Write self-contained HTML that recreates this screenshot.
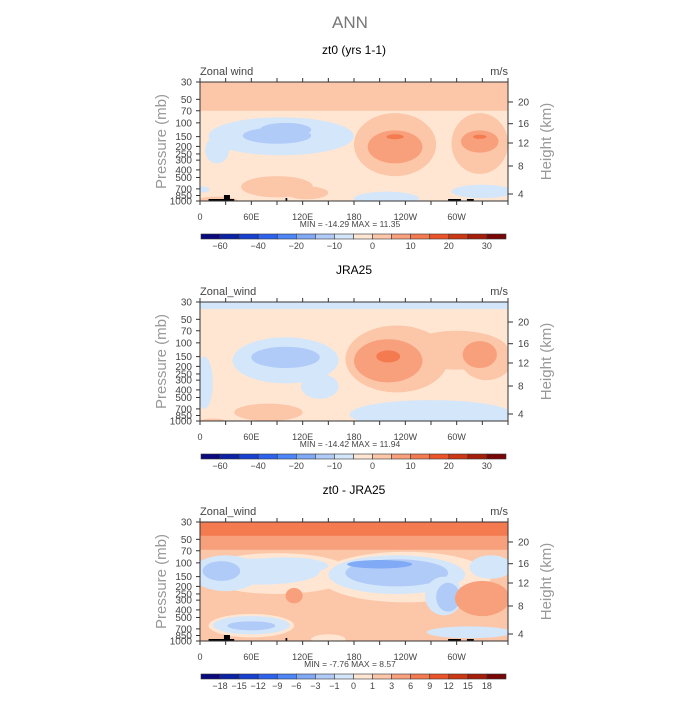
<!DOCTYPE html>
<html><head><meta charset="utf-8"><style>
body{margin:0;background:#fff}
svg text{font-family:"Liberation Sans",sans-serif}
</style></head><body>
<svg id="c" width="700" height="700" viewBox="0 0 700 700" xmlns="http://www.w3.org/2000/svg">
<text x="350" y="28" text-anchor="middle" font-size="17" fill="#777">ANN</text>
</svg>
<script>
const colors1=["#0a0a7e","#0b22a6","#1840d0","#2c62ee","#4c86f8","#80aaf6","#b0cbf8","#d4e6fa","#fee6d2","#fcc6a8","#f8a07c","#f47a50","#ea5428","#cc3814","#a41e0a","#780606"];
const barLabels1=["-60","-40","-20","-10","0","10","20","30"];
const barLabels3=["-18","-15","-12","-9","-6","-3","-1","0","1","3","6","9","12","15","18"];
const titles=["zt0 (yrs 1-1)","JRA25","zt0 - JRA25"];
const varNames=["Zonal wind","Zonal_wind","Zonal_wind"];
const minMax=[["-14.29","11.35"],["-14.42","11.94"],["-7.76","8.57"]];
const pTicks=[30,50,70,100,150,200,250,300,400,500,700,850,1000];
const hTicks=[20,16,12,8,4];
const hTickOffsets=[20,41.7,61,84,112];
const lonTicks=[0,60,120,180,240,300];
const lonLabels=["0","60E","120E","180","120W","60W"];
const bgLevel=[8,8,9];
// blobs: [lonCenter, lonRadius, pTop, pBottom, level]; radius >=180 => full-width band
const blobs1=[[180,200,25,70,9],[95,85,85,260,7],[20,14,150,330,7],[90,40,115,185,6],[100,30,100,150,6],
[228,48,75,480,9],[228,32,125,330,10],[228,10,140,162,11],[327,33,75,450,9],[327,22,125,240,10],[327,8,142,160,11],
[90,42,480,900,9],[125,25,650,950,9],[218,38,760,1150,7],[330,36,620,920,7],[3,8,650,780,7],[20,25,880,1150,9]];
const blobs2=[[180,200,20,37,7],[230,60,60,430,9],[300,60,70,220,9],[335,30,90,300,9],[100,62,85,330,7],[5,10,150,700,7],[140,22,250,520,7],
[100,40,112,210,6],[220,40,90,320,10],[220,14,125,178,11],[327,20,95,210,10],
[270,95,540,1250,7],[80,40,600,1000,9],[15,15,930,1100,9]];
const blobs3=[[180,200,20,85,9],[180,200,20,68,10],[180,200,20,45,11],
[90,90,75,250,8],[240,100,72,320,8],[70,70,88,190,7],[30,40,80,230,7],[25,22,95,170,6],[100,50,85,140,7],[230,80,80,250,7],[230,60,90,200,6],[210,38,92,118,5],[285,22,150,470,7],[290,14,180,420,6],[340,25,80,160,7],
[330,32,170,480,10],[110,10,210,330,10],[60,50,450,900,8],[60,45,480,820,7],[60,28,560,730,6],[150,20,820,1100,8],[315,50,650,920,7]];
const topo=[[10,40,2],[28,35,6],[100,102,3],[290,305,2],[312,320,2]];
const allBlobs=[blobs1,blobs2,blobs3];

const svg=document.getElementById('c');
const NS="http://www.w3.org/2000/svg";
const X0=200,X1=508,H=119,tops=[82,302,522];
function xs(l){return X0+(X1-X0)*l/360;}
function ys(p,t){return t+H*Math.log(p/30)/Math.log(1000/30);}
function mk(tag,at,par){const e=document.createElementNS(NS,tag);for(const k in at)e.setAttribute(k,at[k]);(par||svg).appendChild(e);return e;}
function txt(s,at,par){const e=mk('text',at,par);e.textContent=s;return e;}

for(let i=0;i<3;i++){
  const t=tops[i];
  const g=mk('g',{});
  
  
  const cp=mk('clipPath',{id:'cp'+i},g);
  mk('rect',{x:X0,y:t,width:X1-X0,height:H},cp);
  const pg=mk('g',{'clip-path':'url(#cp'+i+')'},g);
  const bg=mk('rect',{x:X0,y:t,width:X1-X0,height:H,fill:colors1[bgLevel[i]]},pg);
  
  
  for(const b of allBlobs[i]){
    const y1=ys(b[2],t),y2=ys(b[3],t);
    let e;
    if(b[1]>=180){
      e=mk('rect',{x:X0,y:y1,width:X1-X0,height:y2-y1,fill:colors1[b[4]]},pg);
    } else {
      const cx=xs(b[0]),rx=xs(b[0]+b[1])-cx;
      e=mk('ellipse',{cx:cx,cy:(y1+y2)/2,rx:rx,ry:(y2-y1)/2,fill:colors1[b[4]]},pg);
    }
    
    
  }
  if(i!=1){for(const tp of topo){
    const r=mk('rect',{x:xs(tp[0]),y:t+H-tp[2],width:xs(tp[1])-xs(tp[0]),height:tp[2],fill:'#000'},pg);
    
    
  }}
  mk('rect',{x:X0,y:t,width:X1-X0,height:H,fill:'none',stroke:'#333','stroke-width':1},g);
  for(let l=0;l<=360;l+=30){
    mk('line',{x1:xs(l),x2:xs(l),y1:t,y2:t-4,stroke:'#333'},g);
    mk('line',{x1:xs(l),x2:xs(l),y1:t+H,y2:t+H+4,stroke:'#333'},g);
  }
  lonTicks.forEach((l,k)=>{const e=txt(lonLabels[k],{x:xs(l),y:t+H+19,'text-anchor':'middle','font-size':9,fill:'#444'},g);
    });
  pTicks.forEach(p=>{const y=ys(p,t);mk('line',{x1:X0,x2:X0-4,y1:y,y2:y,stroke:'#333'},g);
    const e=txt(String(p),{x:X0-8,y:y+3.5,'text-anchor':'end','font-size':10,fill:'#444'},g);
    });
  hTicks.forEach((h,k)=>{const y=t+hTickOffsets[k];mk('line',{x1:X1,x2:X1+5,y1:y,y2:y,stroke:'#333'},g);
    const e=txt(String(h),{x:X1+10,y:y+3.5,'font-size':10,fill:'#444'},g);
    });
  let e=txt(titles[i],{x:354,y:t-28,'text-anchor':'middle','font-size':12,fill:'#000'},g);
  
  e=txt(varNames[i],{x:X0,y:t-7,'font-size':11,fill:'#444'},g);
  
  e=txt("m/s",{x:X1,y:t-7,'text-anchor':'end','font-size':11,fill:'#444'},g);
  
  e=txt("Pressure (mb)",{x:0,y:0,'text-anchor':'middle','font-size':15,fill:'#999',transform:`translate(${166},${t+H/2}) rotate(-90)`},g);
  
  e=txt("Height (km)",{x:0,y:0,'text-anchor':'middle','font-size':15,fill:'#999',transform:`translate(${551},${t+H/2}) rotate(-90)`},g);
  
  e=txt("MIN = "+minMax[i][0]+"   MAX =  "+minMax[i][1],{x:350,y:t+H+26,'text-anchor':'middle','font-size':8.5,fill:'#444','xml:space':'preserve'},g);
  
  const cb=mk('g',{},g);
  
  
  const bx=201,bw=305/16,by=t+152;
  colors1.forEach((c,k)=>{mk('rect',{x:bx+k*bw,y:by,width:bw,height:5,fill:c,stroke:'#333','stroke-width':0.6},cb);});
  const labs=i==2?barLabels3:barLabels1;
  labs.forEach((s,k)=>{const bi=i==2?k+1:2*k+1;
    const e2=txt(s.replace('-','\u2212'),{x:bx+bi*bw,y:by+15,'text-anchor':'middle','font-size':9,fill:'#444'},cb);
    });
}
</script>
</body></html>
